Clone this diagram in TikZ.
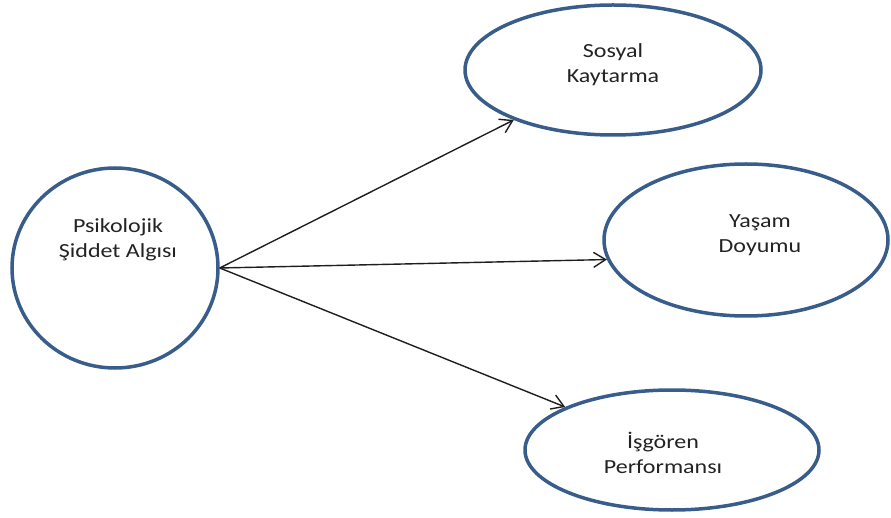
\documentclass[tikz,border=0pt]{standalone}
\usepackage{fontspec}
\setmainfont{Carlito}[FakeStretch=1.2]
\usetikzlibrary{positioning,arrows.meta,shapes.geometric}
\definecolor{ModelBlue}{RGB}{56,93,138}
\definecolor{ModelInk}{RGB}{30,30,30}
\definecolor{ModelText}{RGB}{35,35,35}
\tikzset{
  model oval/.style={
    ellipse,
    draw=ModelBlue,
    line width=3.5pt,
    fill=white,
    inner sep=0pt
  },
  model text/.style={
    align=center,
    text=ModelText,
    font=\fontsize{20}{25}\selectfont
  },
  model arrow/.style={-{Straight Barb[length=12pt,width=15pt]}, line width=1.4pt, ModelInk}
}

\begin{document}
\begin{tikzpicture}[x=1pt,y=-1pt]
\useasboundingbox (0,0) rectangle (891,518);
\node[model oval, minimum width=206pt, minimum height=200pt,
  label={[model text, xshift=3pt, yshift=28pt]center:{Psikolojik\\Şiddet Algısı}}] (psa) at (115,268) {};
\node[model oval, minimum width=296pt, minimum height=130pt,
  label={[model text, yshift=5pt]center:{Sosyal\\Kaytarma}}] (sk) at (613,70) {};
\node[model oval, minimum width=284pt, minimum height=152pt,
  label={[model text, xshift=14pt, yshift=5pt]center:{Yaşam\\Doyumu}}] (yd) at (746,240) {};
\node[model oval, minimum width=294pt, minimum height=120pt,
  label={[model text, xshift=-9pt, yshift=-3pt]center:{İşgören\\Performansı}}] (ip) at (672,450) {};
\draw[model arrow] (psa.east)--(sk);
\draw[model arrow] (psa.east)--(yd.188);
\draw[model arrow] (psa.east)--(ip);
\end{tikzpicture}
\end{document}
